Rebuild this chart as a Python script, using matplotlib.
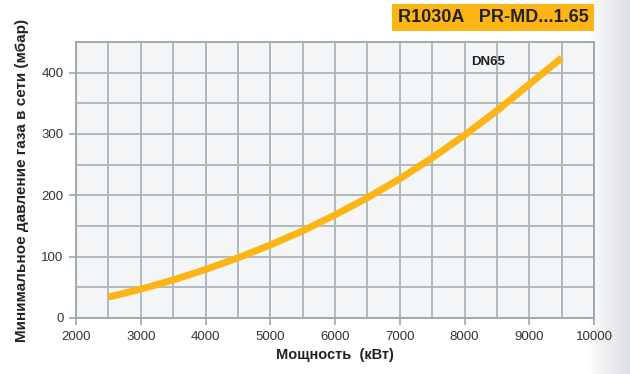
import numpy as np
import matplotlib
matplotlib.use("Agg")
import matplotlib.pyplot as plt
from matplotlib.ticker import MultipleLocator

power_kw = [2500, 3000, 3500, 4000, 4500, 5000, 5500, 6000, 6500, 7000, 7500, 8000, 8500, 9000, 9500]
pressure_mbar = [34, 47, 62, 79, 98, 119, 142, 168, 196, 227, 261, 298, 338, 381, 424]
series_label = "DN65"
title_text = "R1030A   PR-MD...1.65"
xlabel = "Мощность  (кВт)"
ylabel = "Минимальное давление газа в сети (мбар)"

plt.rcParams['font.family'] = ['Liberation Sans', 'DejaVu Sans']

fig = plt.figure(figsize=(6.3, 3.74), dpi=100)
fig.patch.set_facecolor('white')

# background gradient on the right side
bg = fig.add_axes([0, 0, 1, 1], zorder=-10)
xs = np.arange(630)
t = np.clip((xs - 585) / 45.0, 0, 1)
img = np.zeros((10, 630, 3))
c0 = np.array([1.0, 1.0, 1.0])
c1 = np.array([0.86, 0.87, 0.89])
for i in range(3):
    img[:, :, i] = c0[i] + (c1[i] - c0[i]) * t
bg.imshow(img, aspect='auto', extent=[0, 1, 0, 1])
bg.set_axis_off()

ax = fig.add_axes([76/630, 1-318/374, (594-76)/630, (318-42)/374])
ax.set_facecolor('#f3f5f7')
ax.set_xlim(2000, 10000)
ax.set_ylim(0, 450)
ax.xaxis.set_major_locator(MultipleLocator(1000))
ax.xaxis.set_minor_locator(MultipleLocator(500))
ax.yaxis.set_major_locator(MultipleLocator(100))
ax.yaxis.set_minor_locator(MultipleLocator(50))
ax.grid(True, which='both', color='#a9b5bc', linewidth=1.3)
ax.set_axisbelow(True)
for s in ax.spines.values():
    s.set_color('#9aa7ae')
    s.set_linewidth(1.3)
ax.tick_params(which='major', length=5, width=1.2, color='#9aa7ae',
               labelsize=9.5, labelcolor='#333333', pad=4)
ax.tick_params(which='minor', length=0)

ax.plot(power_kw, pressure_mbar, color='#fdb515', linewidth=5,
        solid_capstyle='butt', solid_joinstyle='round', zorder=3)
ax.text(8100, 418, series_label, fontsize=9.5, fontweight='bold', color='#222222',
        ha='left', va='center')

ax.set_xlabel(xlabel, fontsize=10.5, fontweight='bold', color='#222222', labelpad=4)
ax.set_ylabel(ylabel, fontsize=11, fontweight='bold', color='#222222', labelpad=9)

fig.text(493/630, 1-17.5/374, title_text, fontsize=13, fontweight='bold', color='#222222',
         ha='center', va='center',
         bbox=dict(boxstyle='square,pad=0.3', facecolor='#fdb515', edgecolor='none'))

fig.savefig('out.png', dpi=100)
